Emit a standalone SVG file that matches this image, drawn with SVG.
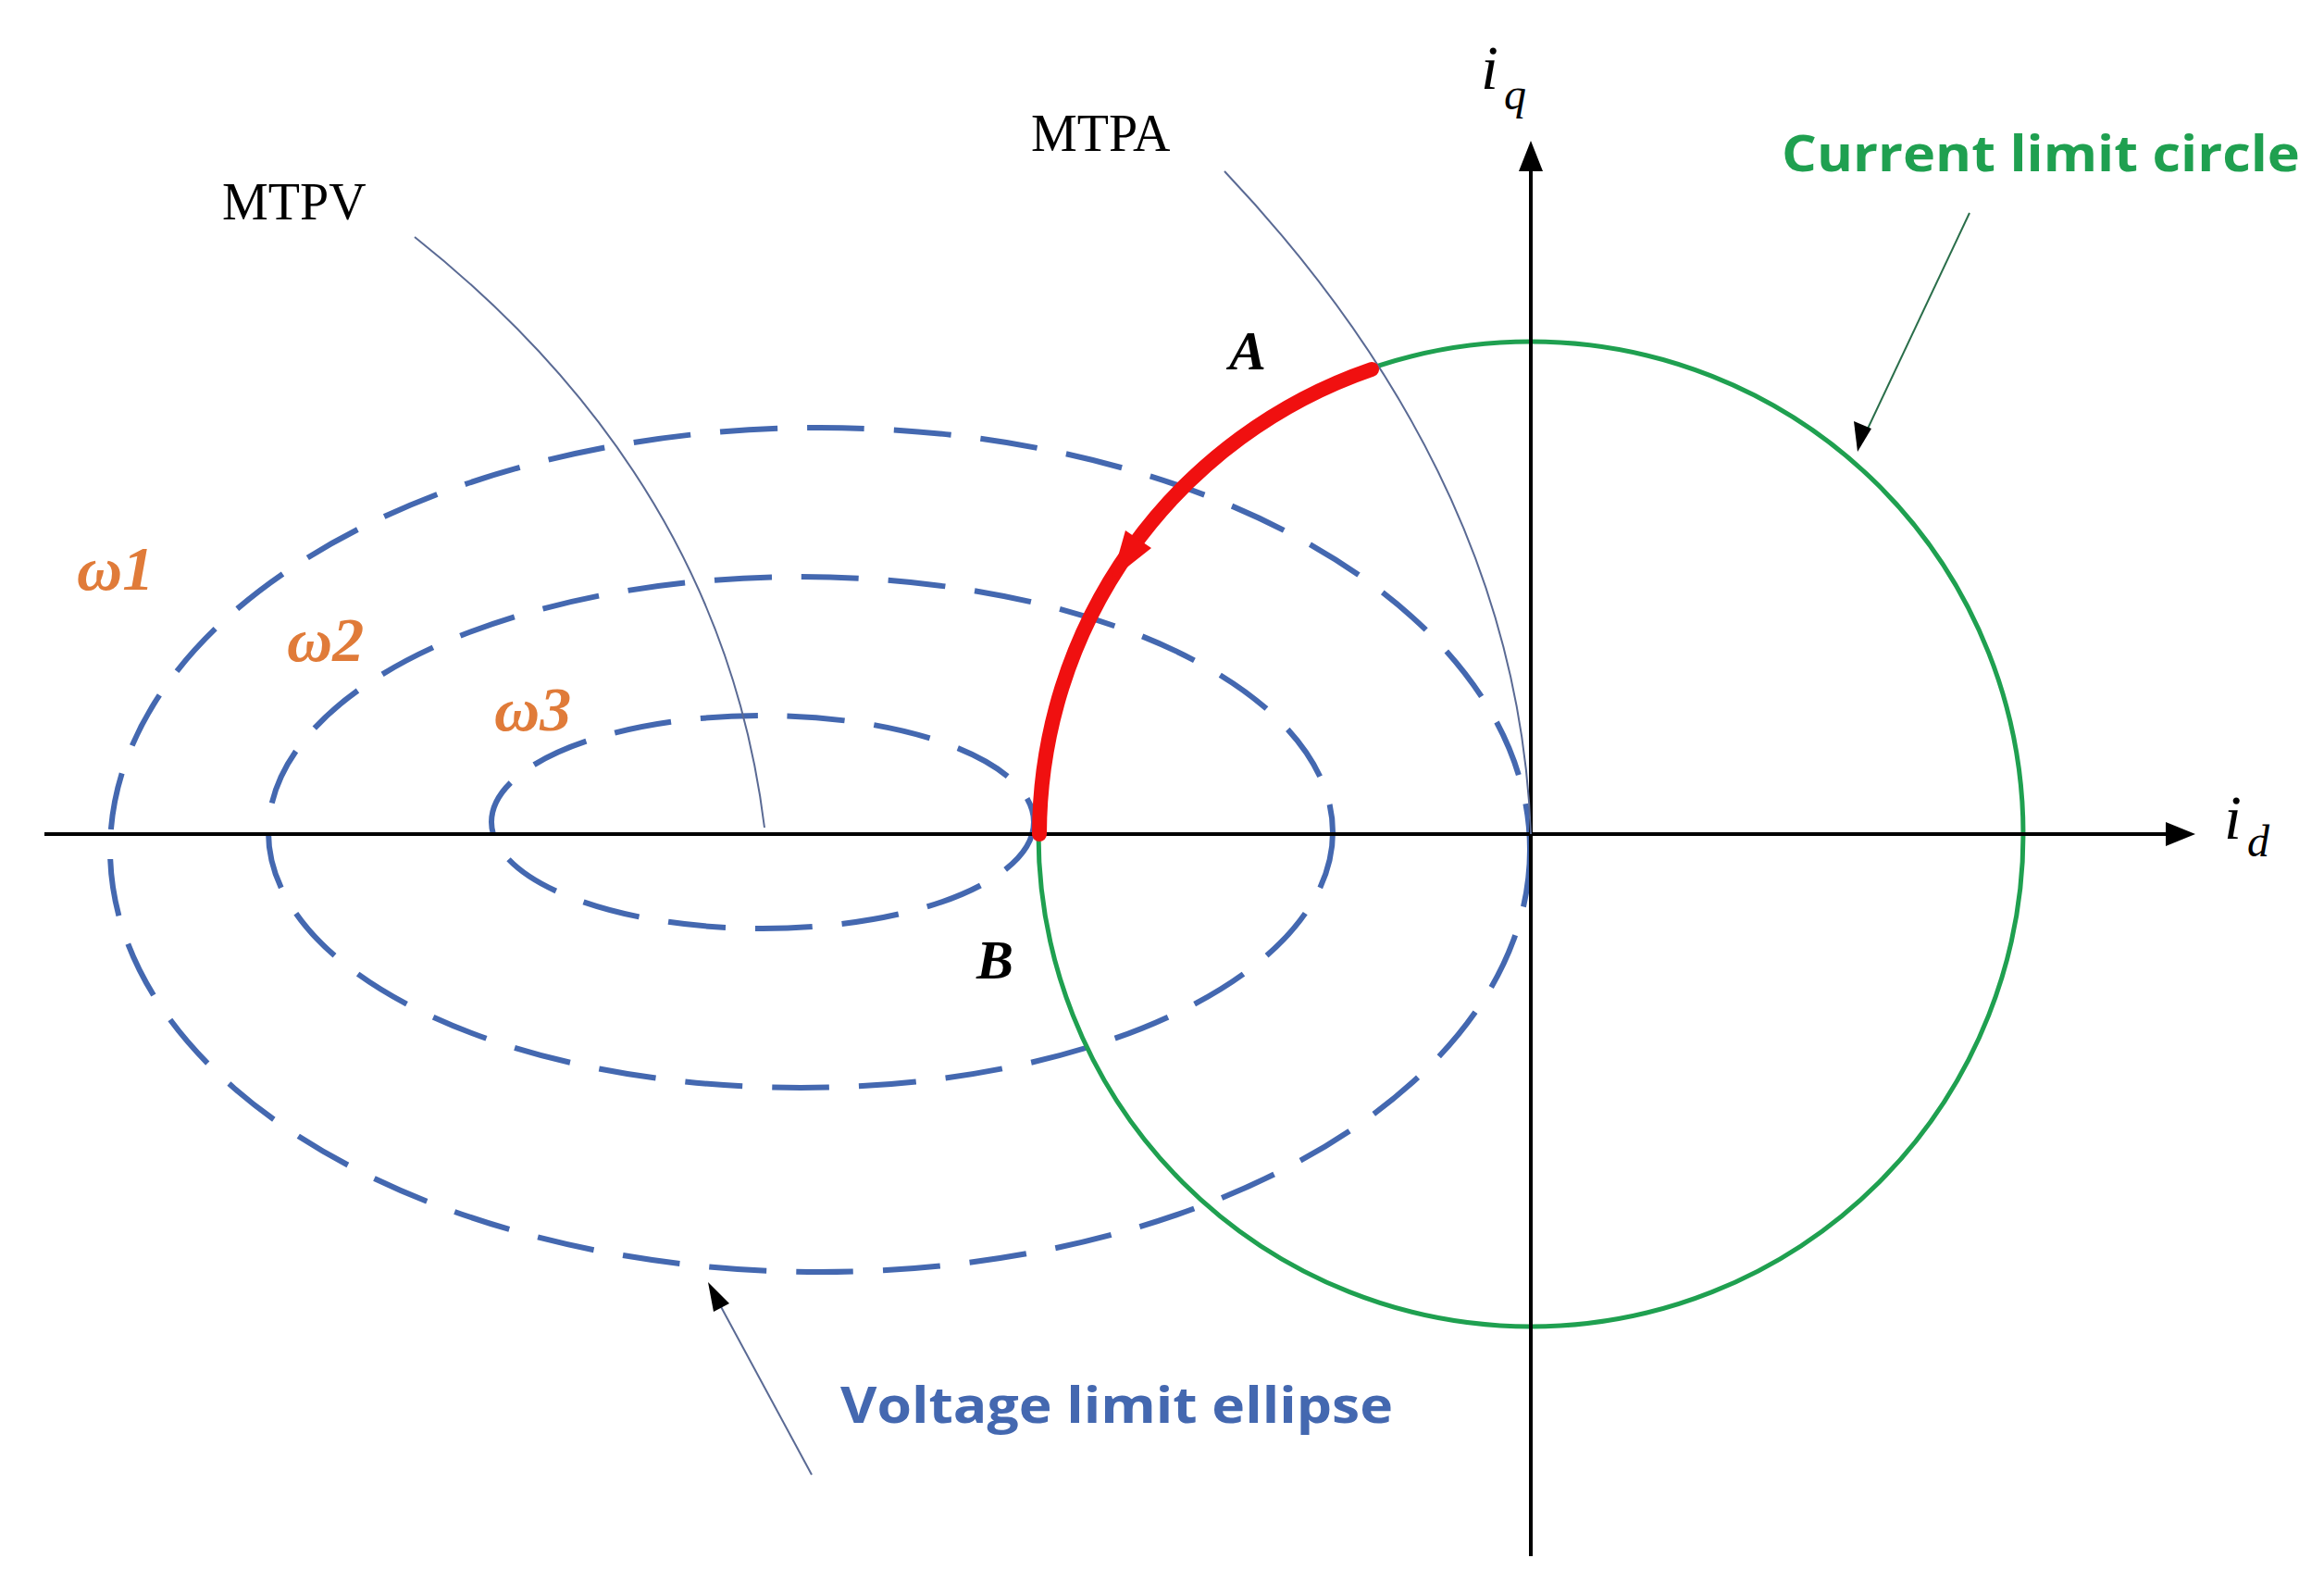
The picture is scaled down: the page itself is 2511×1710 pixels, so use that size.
<svg xmlns="http://www.w3.org/2000/svg" width="2511" height="1710" viewBox="0 0 2511 1710">
<style>
.ax{stroke:#000;stroke-width:4;fill:none}
.el{stroke:#4468b0;stroke-width:6;fill:none;stroke-dasharray:62 32}
.thin{stroke:#5a6a94;stroke-width:2;fill:none}
.tr{font-family:"Liberation Serif",serif;fill:#000}
.om{font-family:"Liberation Serif",serif;font-style:italic;font-weight:bold;fill:#e07b39;font-size:68px}
</style>
<rect width="2511" height="1710" fill="#fff"/>
<g id="ellipses">
<ellipse class="el" cx="886" cy="918" rx="767" ry="456"/>
<ellipse class="el" cx="865" cy="899" rx="575" ry="276"/>
<ellipse class="el" cx="824" cy="888" rx="293" ry="115"/>
</g>
<g id="circle"><circle cx="1654" cy="901" r="532" fill="none" stroke="#1fa050" stroke-width="5"/></g>
<g id="connectors">
<path class="ax" d="M48,901 H2340"/><polygon points="2372,901 2340,888 2340,914" fill="#000"/>
<path class="ax" d="M1654,1681 V185"/><polygon points="1654,152 1641,185 1667,185" fill="#000"/>
<path class="thin" d="M1323,185 Q1640,520 1654,901"/>
<path class="thin" d="M448,256 Q780,520 826,894"/>
<path d="M2128,230 L2010,480" stroke="#2a6e4a" stroke-width="2" fill="none"/>
<polygon points="2007,488 2003,455 2022,463" fill="#000"/>
<path d="M877,1593 L770,1395" stroke="#5a6a94" stroke-width="2" fill="none"/>
<polygon points="765,1385 771,1417 788,1408" fill="#000"/>
<path d="M1482,399 A532,532 0 0,0 1123,901" stroke="#f01010" stroke-width="16" fill="none" stroke-linecap="round"/>
<polygon points="1201,626 1244,592 1216,573" fill="#f01010"/>
</g>
<g id="labels">
<text class="tr" x="1114" y="163" font-size="56">MTPA</text>
<text class="tr" x="240" y="237" font-size="56">MTPV</text>
<text class="tr" x="1600" y="96" font-size="68" font-style="italic">i</text>
<text class="tr" x="1625" y="118" font-size="48" font-style="italic">q</text>
<text class="tr" x="2403" y="906" font-size="68" font-style="italic">i</text>
<text class="tr" x="2428" y="925" font-size="48" font-style="italic">d</text>
<text class="tr" x="1328" y="399" font-size="60" font-style="italic" font-weight="bold">A</text>
<text class="tr" x="1055" y="1057" font-size="60" font-style="italic" font-weight="bold">B</text>
<text class="om" x="83" y="637">ω1</text>
<text class="om" x="310" y="714">ω2</text>
<text class="om" x="534" y="789">ω3</text>
<text x="1925" y="185" font-family="'Open Sans',sans-serif" font-weight="bold" font-size="54" fill="#1fa050" textLength="560" lengthAdjust="spacingAndGlyphs">Current limit circle</text>
<text x="908" y="1537" font-family="'Open Sans',sans-serif" font-weight="bold" font-size="54" fill="#4468b0" textLength="597" lengthAdjust="spacingAndGlyphs">Voltage limit ellipse</text>
</g>
</svg>
